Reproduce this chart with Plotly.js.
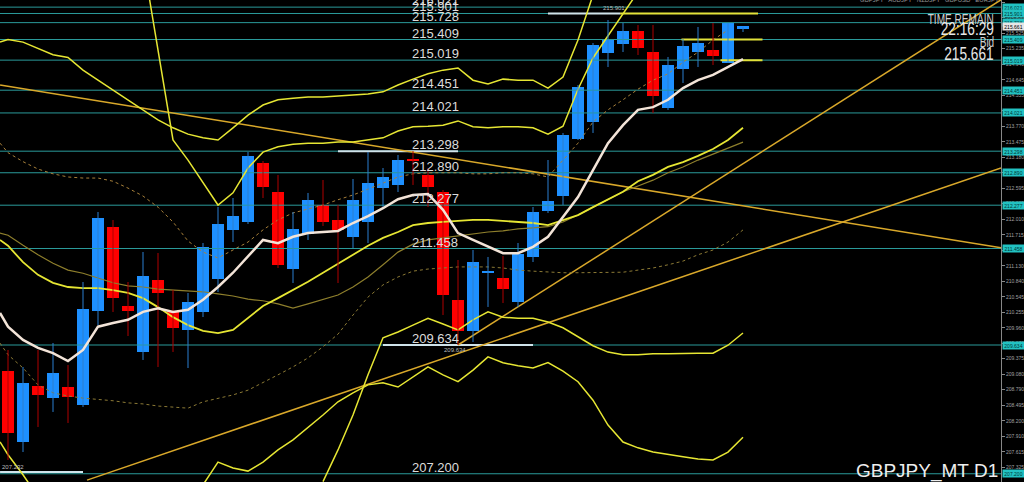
<!DOCTYPE html>
<html><head><meta charset="utf-8">
<script src="https://cdn.plot.ly/plotly-3.0.1.min.js"></script>
<style>html,body{margin:0;padding:0;background:#000;}#chart{width:1024px;height:482px;}
.narrow{transform-box:fill-box;transform-origin:right center;transform:scaleX(0.72);}
</style>
</head><body><div id="chart"></div>
<script>
// ---- candles (daily bars, index 0 = oldest visible) ----
const open  = [209.143,207.800,208.859,208.632,208.840,208.500,210.277,211.865,210.371,209.502,210.863,210.258,209.918,210.258,210.882,211.808,211.959,213.075,212.526,211.071,211.732,212.281,211.997,211.676,211.959,212.602,212.659,213.150,212.848,212.526,210.485,209.899,210.995,210.901,210.447,211.298,212.167,212.451,213.528,213.850,215.154,215.324,215.570,215.173,214.114,214.852,215.173,215.211,214.965,215.608];
const high  = [209.540,209.218,209.540,209.672,209.256,210.825,212.148,211.997,210.825,211.392,211.373,210.674,210.617,211.562,212.243,212.413,213.283,213.112,212.848,212.148,212.508,212.753,212.281,212.772,213.283,212.980,213.226,213.298,212.980,212.564,211.241,211.430,211.298,211.317,211.562,212.243,213.131,213.642,214.549,215.343,215.778,215.721,215.683,215.683,215.079,215.419,215.646,215.721,215.721,215.646];
const low   = [207.460,207.611,208.084,208.368,208.160,208.462,210.012,210.258,209.804,209.351,209.218,209.502,209.199,210.163,210.636,211.581,211.922,212.413,211.090,210.806,211.619,211.884,210.806,211.468,211.562,212.243,212.526,212.659,212.243,210.201,209.634,209.691,210.353,210.428,210.353,211.203,212.129,212.281,213.509,213.642,214.889,215.173,215.116,214.020,214.077,214.587,214.889,214.927,214.965,215.551];
const close = [207.971,208.916,208.689,209.105,208.651,210.315,212.035,210.523,210.277,210.939,210.617,209.956,210.447,211.487,211.922,212.073,213.207,212.621,211.146,211.827,212.375,211.959,211.808,212.375,212.697,212.810,213.131,213.112,212.621,210.579,209.899,211.203,211.014,210.693,211.354,212.148,212.356,213.604,214.511,215.305,215.400,215.570,215.249,214.341,214.927,215.286,215.343,215.097,215.721,215.661];

// ---- indicator lines (values read per bar; "Lead" = value at the left edge) ----
const maWhiteLead = 210.24;
const maWhite = [209.98,209.73,209.58,209.48,209.33,209.54,209.98,210.05,210.11,210.26,210.33,210.26,210.30,210.49,210.73,211.00,211.30,211.62,211.56,211.68,211.75,211.77,211.79,211.94,212.07,212.22,212.39,212.47,212.49,212.19,211.75,211.62,211.49,211.37,211.37,211.49,211.68,212.05,212.43,212.94,213.45,213.79,214.08,214.13,214.27,214.49,214.64,214.74,214.89,215.04];
const bandALead = 215.36;
const bandA = [215.41,215.36,215.24,215.12,215.07,214.83,214.64,214.45,214.27,214.08,213.89,213.74,213.62,213.55,213.51,213.74,213.98,214.17,214.27,214.30,214.32,214.32,214.34,214.36,214.38,214.42,214.55,214.66,214.76,214.83,214.87,214.64,214.57,214.66,214.64,214.64,214.49,214.70,215.40,216.25];
const bandBStart = 9;
const bandB = [216.91,215.21,213.51,213.13,212.70,212.28,212.51,212.98,213.28,213.38,213.43,213.45,213.45,213.47,213.47,213.51,213.55,213.68,213.76,213.77,213.79,213.87,213.76,213.74,213.76,213.76,213.74,213.62,213.77,214.47,215.06,215.48,215.89,216.31];
const bandCLead = 211.62;
const bandC = [211.51,211.20,210.96,210.81,210.73,210.71,210.71,210.67,210.62,210.52,210.35,210.16,210.01,209.90,209.86,209.92,210.14,210.37,210.52,210.67,210.83,211.00,211.17,211.34,211.51,211.66,211.77,211.90,211.94,211.96,211.98,212.00,212.00,211.98,211.96,211.94,211.90,212.00,212.09,212.24,212.39,212.53,212.73,212.85,213.00,213.09,213.21,213.34,213.51,213.74];
const oliveLead = 211.75;
const oliveLine = [211.71,211.52,211.34,211.18,211.05,210.99,210.90,210.81,210.75,210.73,210.69,210.67,210.66,210.64,210.60,210.56,210.50,210.47,210.41,210.33,210.41,210.49,210.58,210.73,210.92,211.15,211.39,211.54,211.62,211.66,211.70,211.73,211.77,211.79,211.83,211.85,211.87,211.96,212.09,212.24,212.39,212.53,212.64,212.75,212.89,213.00,213.13,213.24,213.36,213.47];
const dottedUpperLead = 213.45;
const dottedUpper = [213.27,213.10,212.96,212.87,212.81,212.79,212.79,212.73,212.60,212.45,212.24,211.96,211.60,211.39,211.28,211.43,211.58,211.81,212.00,212.13,212.21,212.28,212.38,212.47,212.58,212.70,212.81,212.87,212.89,212.89,212.89,212.87,212.87,212.89,212.89,212.87,212.81,213.13,213.45,213.85,214.08,214.27,214.47,214.64,214.76,214.98,215.17,215.40,215.59];
const dottedLowerLead = 209.67;
const dottedLower = [209.45,209.20,208.88,208.73,208.67,208.63,208.61,208.58,208.54,208.52,208.48,208.46,208.44,208.56,208.63,208.69,208.78,208.92,209.07,209.22,209.39,209.60,209.84,210.20,210.54,210.77,210.92,211.03,211.07,211.09,211.11,211.11,211.11,211.09,211.05,211.03,211.01,211.00,211.00,211.00,211.00,211.01,211.05,211.09,211.15,211.22,211.34,211.43,211.58,211.81];
const bandDStart = 21;
const bandD = [207.05,207.65,208.31,209.07,209.77,209.88,210.01,210.14,210.03,209.92,210.11,210.26,210.16,210.14,210.14,210.07,209.96,209.79,209.62,209.50,209.45,209.45,209.47,209.47,209.48,209.48,209.48,209.63,209.86];
const bandEStart = 13;
const bandE = [206.99,207.42,207.31,207.25,207.42,207.65,207.84,208.07,208.31,208.56,208.73,208.88,208.92,208.84,209.03,209.22,209.07,208.94,209.16,209.41,209.30,209.24,209.20,209.30,209.14,208.94,208.59,208.12,207.80,207.69,207.61,207.56,207.52,207.48,207.46,207.61,207.89];
const bandFX = [-0.53, 0, 1, 1.7];
const bandF = [207.80, 207.56, 207.18, 206.89];

// ---- trend lines (two anchor points each: bar index, price) ----
const trend1X = [-0.53, 66.2], trend1Y = [214.55, 211.47];
const trend2X = [5.27, 66.2],  trend2Y = [207.08, 212.98];
const trend3X = [30, 66.2],    trend3Y = [209.634, 216.16];

// ---- horizontal price levels ----
const levels = [216.021,215.901,215.728,215.409,215.019,214.451,214.021,213.298,212.890,212.277,211.458,209.634,207.200];
const levelLabels = ["216.021","215.901","215.728","215.409","215.019","214.451","214.021","213.298","212.890","212.277","211.458","209.634","207.200"];
const bidPrice = 215.661;
const whiteSegY = [215.901, 213.298, 209.634, 207.232];
const whiteSegFrom = [36, 22, 25, -0.53];
const whiteSegTo = [40.8, 30, 35, 5];
const yellowSegY = [215.901, 215.409, 215.019];
const yellowSegFrom = [40.8, 44.9, 47.5];
const yellowSegTo = [50, 50.3, 50.3];

// ---- right axis ticks ----
const tickVals = [207.325,207.615,207.910,208.200,208.495,208.790,209.080,209.375,209.670,209.960,210.255,210.545,210.840,211.130,211.425,211.715,212.010,212.305,212.595,212.890,213.180,213.475,213.770,214.060,214.355,214.645,214.940,215.235,215.525,215.820,216.110];

const X0 = -0.533, X1 = 66.2;
const bars = open.map((_, i) => i);
function seriesX(start, arr){ return arr.map((_, i) => start + i); }
function withLead(lead, arr){ return {x:[X0].concat(seriesX(0, arr)), y:[lead].concat(arr)}; }

const traces = [];
{
  const xs = [], ys = [];
  levels.forEach(v => { xs.push(X0, X1, null); ys.push(v, v, null); });
  traces.push({type:'scatter', mode:'lines', x:xs, y:ys, line:{color:'#2a9a9a', width:1}});
}
{
  const xs = [], ys = [];
  whiteSegY.forEach((v, i) => { xs.push(whiteSegFrom[i], whiteSegTo[i], null); ys.push(v, v, null); });
  traces.push({type:'scatter', mode:'lines', x:xs, y:ys, line:{color:'#cfe3ea', width:2}});
}
{
  const xs = [], ys = [];
  yellowSegY.forEach((v, i) => { xs.push(yellowSegFrom[i], yellowSegTo[i], null); ys.push(v, v, null); });
  traces.push({type:'scatter', mode:'lines', x:xs, y:ys, line:{color:'#e2e23a', width:2}});
}
[[trend1X,trend1Y],[trend2X,trend2Y],[trend3X,trend3Y]].forEach(t => {
  traces.push({type:'scatter', mode:'lines', x:t[0], y:t[1], line:{color:'#d9a82a', width:1.5}});
});
const dl = withLead(dottedLowerLead, dottedLower);
traces.push({type:'scatter', mode:'lines', x:dl.x, y:dl.y, line:{color:'#8c7a35', width:1, dash:'dot'}});
const du = withLead(dottedUpperLead, dottedUpper);
traces.push({type:'scatter', mode:'lines', x:du.x, y:du.y, line:{color:'#a8803a', width:1, dash:'dot'}});
const ol = withLead(oliveLead, oliveLine);
traces.push({type:'scatter', mode:'lines', x:ol.x, y:ol.y, line:{color:'#8e7f2c', width:1.2}});
const yel = '#e6e633';
const bc = withLead(bandCLead, bandC);
traces.push({type:'scatter', mode:'lines', x:bc.x, y:bc.y, line:{color:yel, width:1.8}});
const ba = withLead(bandALead, bandA);
traces.push({type:'scatter', mode:'lines', x:ba.x, y:ba.y, line:{color:yel, width:1.5}});
traces.push({type:'scatter', mode:'lines', x:seriesX(bandBStart,bandB), y:bandB, line:{color:yel, width:1.5}});
traces.push({type:'scatter', mode:'lines', x:seriesX(bandDStart,bandD), y:bandD, line:{color:yel, width:1.5}});
traces.push({type:'scatter', mode:'lines', x:seriesX(bandEStart,bandE), y:bandE, line:{color:yel, width:1.5}});
traces.push({type:'scatter', mode:'lines', x:bandFX, y:bandF, line:{color:yel, width:1.5}});

const up = bars.filter(i => close[i] >= open[i]);
const dn = bars.filter(i => close[i] < open[i]);
function wick(list){ const xs=[], ys=[]; list.forEach(i => { xs.push(i,i,null); ys.push(low[i],high[i],null); }); return {xs, ys}; }
const wu = wick(up), wd = wick(dn);
traces.push({type:'scatter', mode:'lines', x:wu.xs, y:wu.ys, line:{color:'#2b7fd0', width:1}});
traces.push({type:'scatter', mode:'lines', x:wd.xs, y:wd.ys, line:{color:'#b00000', width:1}});
traces.push({type:'bar', x:up, base:up.map(i=>open[i]), y:up.map(i=>Math.max(close[i]-open[i],0.03)), width:0.8, marker:{color:'#1e90ff', line:{width:0}}});
traces.push({type:'bar', x:dn, base:dn.map(i=>close[i]), y:dn.map(i=>Math.max(open[i]-close[i],0.03)), width:0.8, marker:{color:'#ff0000', line:{width:0}}});
const ma = withLead(maWhiteLead, maWhite);
traces.push({type:'scatter', mode:'lines', x:ma.x, y:ma.y, line:{color:'#f3e4d8', width:2.5}});

const font = 'Liberation Sans, Arial, sans-serif';
const ann = [];
levels.forEach((v, i) => {
  ann.push({xref:'paper', yref:'y', x:410/1001, y:v, text:levelLabels[i], showarrow:false, xanchor:'left', yanchor:'bottom', yshift:-3, font:{family:font, size:13, color:'#dcdcdc'}});
  ann.push({xref:'paper', yref:'y', x:1.0+12/1001, y:v, text:levelLabels[i], showarrow:false, xanchor:'center', yanchor:'middle', bgcolor:'#22c2c2', borderpad:0, width:21, height:7, font:{family:font, size:5, color:'#003838'}});
});
ann.push({xref:'paper', yref:'y', x:1.0+12/1001, y:bidPrice, text:'215.661', showarrow:false, xanchor:'center', yanchor:'middle', bgcolor:'#e6e6e6', borderpad:0, width:21, height:7, font:{family:font, size:5, color:'#000'}});
ann.push({xref:'x', yref:'y', x:29.8, y:209.634, text:'209.634', showarrow:false, yanchor:'top', font:{family:font, size:6, color:'#bbbbbb'}});
ann.push({xref:'paper', yref:'y', x:0, y:207.232, text:'207.232', showarrow:false, xanchor:'left', yanchor:'bottom', font:{family:font, size:6, color:'#bbbbbb'}});
ann.push({xref:'x', yref:'y', x:40.4, y:215.901, text:'215.901', showarrow:false, yanchor:'bottom', font:{family:font, size:6, color:'#bbbbbb'}});
const info = [['TIME REMAIN', 9, 14, '#d0d0d0'], ['22:16:29', 16, 19, '#e8e8e8'], ['Bid', 32, 14, '#d0d0d0'], ['215.661', 41, 19, '#e8e8e8']];
info.forEach(t => ann.push({xref:'paper', yref:'paper', x:996/1001, y:1-t[1]/482, text:t[0], showarrow:false, xanchor:'right', yanchor:'top', font:{family:font, size:t[2], color:t[3]}}));
ann.push({xref:'paper', yref:'paper', x:1000/1001, y:0, text:'GBPJPY_MT D1', showarrow:false, xanchor:'right', yanchor:'bottom', yshift:-2, font:{family:font, size:19, color:'#eeeeee'}});
ann.push({xref:'paper', yref:'paper', x:1.0, y:1, text:'GBPJPY   AUDJPY   NZDJPY   GBPUSD   EURJPY', showarrow:false, xanchor:'right', yanchor:'middle', font:{family:font, size:6, color:'#999'}});

const layout = {
  width:1024, height:482,
  margin:{l:0, r:23, t:0, b:0},
  paper_bgcolor:'#000', plot_bgcolor:'#000',
  showlegend:false, barmode:'overlay', bargap:0,
  xaxis:{range:[X0, X1], visible:false, fixedrange:true},
  yaxis:{range:[207.044, 216.156], side:'right', showgrid:false, zeroline:false,
    tickvals:tickVals, ticktext:tickVals.map(v=>v.toFixed(3)), ticks:'outside', ticklen:3, tickcolor:'#888',
    tickfont:{family:font, size:5, color:'#a0a0a0'}, showline:true, linecolor:'#888', linewidth:1, automargin:false},
  annotations:ann,
  hovermode:false
};
Plotly.newPlot('chart', traces, layout, {staticPlot:true, displayModeBar:false}).then(gd => {
  const names = ['TIME REMAIN','22:16:29','Bid','215.661'];
  gd.querySelectorAll('text.annotation-text').forEach(el => {
    if (names.includes(el.textContent) && el.style.fontSize && parseFloat(el.style.fontSize) > 10) el.classList.add('narrow');
  });
});
</script></body></html>
